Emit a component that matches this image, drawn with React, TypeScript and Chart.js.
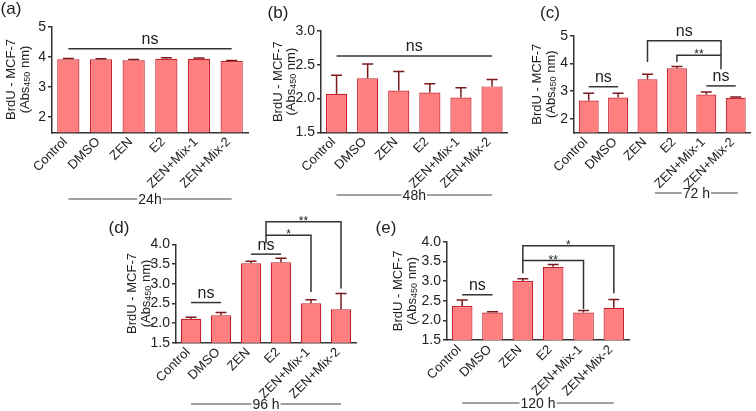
import React, { useEffect, useRef } from 'react';
import { Chart, registerables } from 'chart.js';

Chart.register(...registerables);

const FONT = '"Liberation Sans", Arial, Helvetica, sans-serif';
const TEXT = '#222';
const AXIS = '#333';
const BAR_FILL = 'rgb(255,127,127)';
const BAR_EDGE = 'rgb(200,32,45)';
const ERR = '#7a1a1a';

const categories = ['Control', 'DMSO', 'ZEN', 'E2', 'ZEN+Mix-1', 'ZEN+Mix-2'];

// (a) 24 h
const valuesA = [3.92, 3.92, 3.89, 3.94, 3.94, 3.86];
const errorsA = [0.03, 0.02, 0.02, 0.03, 0.02, 0.02];
const ticksA = [2, 3, 4, 5];

// (b) 48 h
const valuesB = [2.07, 2.3, 2.12, 2.09, 2.015, 2.18];
const errorsB = [0.275, 0.21, 0.28, 0.13, 0.145, 0.1];
const ticksB = [1.5, 2.0, 2.5, 3.0];

// (c) 72 h
const valuesC = [2.66, 2.77, 3.43, 3.83, 2.88, 2.76];
const errorsC = [0.26, 0.15, 0.18, 0.06, 0.09, 0.03];
const ticksC = [2, 3, 4, 5];

// (d) 96 h
const valuesD = [2.11, 2.195, 3.52, 3.545, 2.5, 2.35];
const errorsD = [0.035, 0.075, 0.05, 0.1, 0.09, 0.4];
const ticksD = [1.5, 2.0, 2.5, 3.0, 3.5, 4.0];

// (e) 120 h
const valuesE = [2.365, 2.2, 3.0, 3.36, 2.2, 2.32];
const errorsE = [0.155, 0.02, 0.06, 0.06, 0.05, 0.21];
const ticksE = [1.5, 2.0, 2.5, 3.0, 3.5, 4.0];

type Bracket = { x1: number; x2: number; y: number; d1?: number; d2?: number; label: string };

const bracketsA: Bracket[] = [{ x1: 0, x2: 5, y: 4.27, label: 'ns' }];
const bracketsB: Bracket[] = [{ x1: 0, x2: 5, y: 2.63, label: 'ns' }];
const bracketsC: Bracket[] = [
  { x1: 0, x2: 1, y: 3.16, label: 'ns' },
  { x1: 4, x2: 5, y: 3.19, label: 'ns' },
  { x1: 2, x2: 4.5, y: 4.83, d1: 4.06, d2: 3.79, label: 'ns' },
  { x1: 3, x2: 4.5, y: 4.3, d1: 4.06, d2: 4.3, label: '**' },
];
const bracketsD: Bracket[] = [
  { x1: 0, x2: 1, y: 2.52, label: 'ns' },
  { x1: 2, x2: 3, y: 3.75, label: 'ns' },
  { x1: 2.5, x2: 4, y: 4.23, d1: 4.02, d2: 2.79, label: '*' },
  { x1: 2.5, x2: 5, y: 4.57, d1: 4.23, d2: 2.88, label: '**' },
];
const bracketsE: Bracket[] = [
  { x1: 0, x2: 1, y: 2.65, label: 'ns' },
  { x1: 2, x2: 4, y: 3.52, d1: 3.19, d2: 2.29, label: '**' },
  { x1: 2, x2: 5, y: 3.9, d1: 3.52, d2: 2.69, label: '*' },
];

interface Panel {
  letter: string;
  values: number[];
  errors: number[];
  ticks: number[];
  decimals: number;
  yMin: number;
  yMax: number;
  brackets: Bracket[];
  time: string;
  timeFrom: number;
  timeTo: number;
  area: { l: number; t: number; r: number; b: number };
  timeY: number;
  letterX: number;
  letterY: number;
  titleX1: number;
  titleX2: number;
}

const panels: Panel[] = [
  {
    letter: '(a)', values: valuesA, errors: errorsA, ticks: ticksA, decimals: 0, yMin: 1.5, yMax: 5,
    brackets: bracketsA, time: '24h', timeFrom: 0, timeTo: 5,
    area: { l: 52, t: 26.7, r: 248, b: 132.3 }, timeY: 199, letterX: 11, letterY: 9, titleX1: 11, titleX2: 25,
  },
  {
    letter: '(b)', values: valuesB, errors: errorsB, ticks: ticksB, decimals: 1, yMin: 1.5, yMax: 3,
    brackets: bracketsB, time: '48h', timeFrom: 0, timeTo: 5,
    area: { l: 321, t: 31, r: 507.6, b: 132.3 }, timeY: 195, letterX: 278, letterY: 13, titleX1: 278, titleX2: 291,
  },
  {
    letter: '(c)', values: valuesC, errors: errorsC, ticks: ticksC, decimals: 0, yMin: 1.5, yMax: 5,
    brackets: bracketsC, time: '72 h', timeFrom: 2.25, timeTo: 5.07,
    area: { l: 574, t: 36, r: 750.4, b: 132.5 }, timeY: 193, letterX: 550, letterY: 13, titleX1: 537, titleX2: 551,
  },
  {
    letter: '(d)', values: valuesD, errors: errorsD, ticks: ticksD, decimals: 1, yMin: 1.5, yMax: 4,
    brackets: bracketsD, time: '96 h', timeFrom: 0, timeTo: 5,
    area: { l: 176, t: 244.3, r: 356, b: 342.7 }, timeY: 404, letterX: 119, letterY: 228, titleX1: 132, titleX2: 146,
  },
  {
    letter: '(e)', values: valuesE, errors: errorsE, ticks: ticksE, decimals: 1, yMin: 1.5, yMax: 4,
    brackets: bracketsE, time: '120 h', timeFrom: 0, timeTo: 5,
    area: { l: 447, t: 241.7, r: 629, b: 340 }, timeY: 403, letterX: 386, letterY: 228, titleX1: 398, titleX2: 412,
  },
];

const Y_AXIS_W = 32;
const X_AXIS_H = 66;
const W = 756;
const H = 411;

function makePlugin(p: Panel) {
  return {
    id: 'extras',
    afterDatasetsDraw(chart: any) {
      const ctx: CanvasRenderingContext2D = chart.ctx;
      const xs = chart.scales.x;
      const ys = chart.scales.y;
      const meta = chart.getDatasetMeta(0);
      ctx.save();
      // error bars (upper only)
      ctx.strokeStyle = ERR;
      ctx.lineWidth = 1.5;
      p.values.forEach((v, i) => {
        const el = meta.data[i];
        const x = el.x;
        const y0 = ys.getPixelForValue(v);
        const y1 = ys.getPixelForValue(v + p.errors[i]);
        ctx.beginPath();
        ctx.moveTo(x, y0);
        ctx.lineTo(x, y1);
        ctx.moveTo(x - 5.5, y1);
        ctx.lineTo(x + 5.5, y1);
        ctx.stroke();
      });
      // brackets
      ctx.strokeStyle = AXIS;
      ctx.lineWidth = 1.5;
      ctx.fillStyle = TEXT;
      ctx.textAlign = 'center';
      p.brackets.forEach((b) => {
        const xa = xs.getPixelForValue(b.x1);
        const xb = xs.getPixelForValue(b.x2);
        const y = ys.getPixelForValue(b.y);
        ctx.beginPath();
        if (b.d1 !== undefined) {
          ctx.moveTo(xa, ys.getPixelForValue(b.d1));
          ctx.lineTo(xa, y);
        } else {
          ctx.moveTo(xa, y);
        }
        ctx.lineTo(xb, y);
        if (b.d2 !== undefined) ctx.lineTo(xb, ys.getPixelForValue(b.d2));
        ctx.stroke();
        const cx = (xa + xb) / 2;
        if (b.label === 'ns') {
          ctx.font = `16px ${FONT}`;
          ctx.textBaseline = 'alphabetic';
          ctx.fillText('ns', cx, y - 4.5);
        } else {
          ctx.font = `12px ${FONT}`;
          ctx.textBaseline = 'alphabetic';
          ctx.fillText(b.label, cx, y + 3);
        }
      });
      // time label with line
      const ta = xs.getPixelForValue(p.timeFrom);
      const tb = xs.getPixelForValue(p.timeTo);
      ctx.font = `14px ${FONT}`;
      ctx.textBaseline = 'middle';
      const tw = ctx.measureText(p.time).width;
      const tc = (ta + tb) / 2;
      ctx.strokeStyle = '#444';
      ctx.lineWidth = 1;
      ctx.beginPath();
      ctx.moveTo(ta, p.timeY);
      ctx.lineTo(tc - tw / 2 - 1, p.timeY);
      ctx.moveTo(tc + tw / 2 + 1, p.timeY);
      ctx.lineTo(tb, p.timeY);
      ctx.stroke();
      ctx.fillText(p.time, tc, p.timeY + 1);
      // panel letter
      ctx.font = `17px ${FONT}`;
      ctx.textBaseline = 'middle';
      ctx.fillText(p.letter, p.letterX, p.letterY);
      // y-axis title (two lines, rotated)
      const cy = (chart.chartArea.top + chart.chartArea.bottom) / 2;
      ctx.save();
      ctx.translate(p.titleX1, cy);
      ctx.rotate(-Math.PI / 2);
      ctx.font = `13px ${FONT}`;
      ctx.textAlign = 'center';
      ctx.textBaseline = 'middle';
      ctx.fillText('BrdU - MCF-7', 0, 0);
      ctx.restore();
      ctx.save();
      ctx.translate(p.titleX2, cy);
      ctx.rotate(-Math.PI / 2);
      ctx.textAlign = 'left';
      ctx.textBaseline = 'middle';
      const parts: [string, number, number][] = [['(Abs', 13, 0], ['450', 9, 3], [' nm)', 13, 0]];
      let total = 0;
      parts.forEach(([s, f]) => {
        ctx.font = `${f}px ${FONT}`;
        total += ctx.measureText(s).width;
      });
      let px = -total / 2;
      parts.forEach(([s, f, dy]) => {
        ctx.font = `${f}px ${FONT}`;
        ctx.fillText(s, px, dy);
        px += ctx.measureText(s).width;
      });
      ctx.restore();
      ctx.restore();
    },
  };
}

function PanelChart({ p }: { p: Panel }) {
  const ref = useRef<HTMLCanvasElement | null>(null);
  useEffect(() => {
    if (!ref.current) return;
    const chart = new Chart(ref.current, {
      type: 'bar',
      data: {
        labels: categories,
        datasets: [
          {
            data: p.values,
            backgroundColor: BAR_FILL,
            borderColor: BAR_EDGE,
            borderWidth: 1.2,
            borderSkipped: false,
            categoryPercentage: 1,
            barPercentage: 0.68,
          },
        ],
      },
      options: {
        responsive: false,
        maintainAspectRatio: false,
        animation: false,
        devicePixelRatio: 1,
        layout: {
          padding: {
            left: p.area.l - Y_AXIS_W,
            top: p.area.t,
            right: W - p.area.r,
            bottom: Math.max(0, H - p.area.b - X_AXIS_H),
          },
        },
        plugins: { legend: { display: false }, tooltip: { enabled: false }, title: { display: false } },
        scales: {
          x: {
            offset: true,
            afterFit: (axis: any) => {
              axis.height = Math.min(X_AXIS_H, H - p.area.b);
              axis.paddingLeft = 0;
              axis.paddingRight = 0;
            },
            grid: { display: false },
            border: { display: true, color: AXIS, width: 1.5 },
            ticks: {
              autoSkip: false,
              minRotation: 45,
              maxRotation: 45,
              padding: -6,
              labelOffset: -3,
              color: TEXT,
              font: { family: FONT, size: 13 },
            },
          },
          y: {
            min: p.yMin,
            max: p.yMax,
            afterBuildTicks: (axis: any) => {
              axis.ticks = p.ticks.map((v) => ({ value: v }));
            },
            afterFit: (axis: any) => {
              axis.width = Y_AXIS_W;
              axis.paddingTop = 0;
              axis.paddingBottom = 0;
            },
            grid: { display: true, drawOnChartArea: false, drawTicks: true, tickLength: 4, color: AXIS, lineWidth: 1.5 },
            border: { display: true, color: AXIS, width: 1.5 },
            ticks: {
              autoSkip: false,
              padding: 2,
              color: TEXT,
              font: { family: FONT, size: 14 },
              callback: (v: any) => Number(v).toFixed(p.decimals),
            },
          },
        },
      },
      plugins: [makePlugin(p)],
    } as any);
    return () => chart.destroy();
  }, [p]);
  return (
    <canvas
      ref={ref}
      width={W}
      height={H}
      style={{ position: 'absolute', left: 0, top: 0, width: W, height: H }}
    />
  );
}

export default function App() {
  return (
    <div style={{ position: 'absolute', left: 0, top: 0, width: W, height: H, background: '#fff' }}>
      {panels.map((p) => (
        <PanelChart key={p.letter} p={p} />
      ))}
    </div>
  );
}
